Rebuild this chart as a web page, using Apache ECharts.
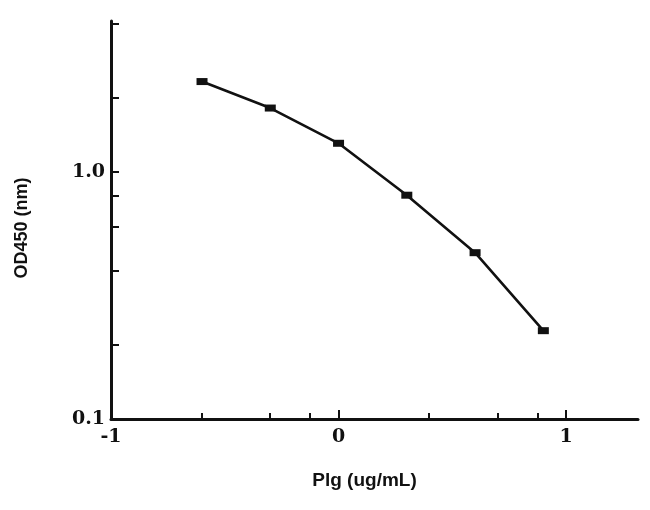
<!DOCTYPE html>
<html>
<head>
<meta charset="utf-8">
<script src="https://cdn.jsdelivr.net/npm/echarts@6/dist/echarts.min.js"></script>
<style>
html,body{margin:0;padding:0;background:#fff;}
#chart{width:650px;height:510px;}
</style>
</head>
<body>
<div id="chart"></div>
<script>
// log10 of Plg concentration (ug/mL)
const xLogConc = [-0.6, -0.3, 0, 0.3, 0.6, 0.9];
// OD450 readings
const od450 = [2.33, 1.82, 1.31, 0.807, 0.472, 0.228];
// axis ticks / labels
const xMajorTicks = [-1, 0, 1];
const xMinorTicks = [-0.602, -0.301, -0.125, 0.398, 0.699, 0.875];
const yTicks = [0.1, 0.2, 0.4, 0.6, 0.8, 1, 2, 4];
const yLabels = [0.1, 1];
const yLabelText = ['0.1', '1.0'];

const chart = echarts.init(document.getElementById('chart'), null, {renderer: 'canvas'});
const ink = '#111';
const grid = {left: 111, right: 12, top: 21, bottom: 91};

chart.setOption({
  backgroundColor: '#fff',
  animation: false,
  grid: grid,
  xAxis: [{
    type: 'value',
    min: -1, max: 1.316,
    name: 'Plg (ug/mL)',
    nameLocation: 'middle',
    nameGap: 52,
    nameTextStyle: {fontFamily: 'Liberation Sans', fontWeight: 'bold', fontSize: 19, color: ink, padding: [0, 20, 0, 0]},
    axisLine: {show: true, onZero: false, lineStyle: {color: ink, width: 3}},
    axisTick: {show: true, inside: true, length: 9, lineStyle: {color: ink, width: 2}, customValues: xMajorTicks},
    axisLabel: {customValues: xMajorTicks, margin: 9, fontFamily: 'DejaVu Serif', fontWeight: 'bold', fontSize: 19, color: ink},
    splitLine: {show: false}
  }, {
    type: 'value',
    min: -1, max: 1.316,
    position: 'bottom',
    axisLine: {show: false, onZero: false},
    axisTick: {show: true, inside: true, length: 6, lineStyle: {color: ink, width: 2}, customValues: xMinorTicks},
    axisLabel: {show: false},
    splitLine: {show: false}
  }],
  yAxis: {
    type: 'log',
    logBase: 10,
    min: 0.1, max: 4.1,
    name: 'OD450 (nm)',
    nameLocation: 'middle',
    nameGap: 80,
    nameRotate: 90,
    nameTextStyle: {fontFamily: 'Liberation Sans', fontWeight: 'bold', fontSize: 18, color: ink, padding: [0, 0, 0, -16]},
    axisLine: {show: true, onZero: false, lineStyle: {color: ink, width: 3}},
    axisTick: {show: true, inside: true, length: 8, lineStyle: {color: ink, width: 2}, customValues: yTicks},
    axisLabel: {
      customValues: yLabels, margin: 6,
      fontFamily: 'DejaVu Serif', fontWeight: 'bold', fontSize: 19, color: ink,
      formatter: function (v) {
        const i = yLabels.findIndex(function (t) { return Math.abs(t - v) < 1e-9; });
        return i >= 0 ? yLabelText[i] : '';
      }
    },
    splitLine: {show: false}
  },
  series: [{
    type: 'line',
    xAxisIndex: 0,
    data: xLogConc.map(function (x, i) { return [x, od450[i]]; }),
    symbol: 'rect',
    symbolSize: [11, 7],
    itemStyle: {color: ink},
    lineStyle: {color: ink, width: 2.6},
    smooth: false
  }]
});
</script>
</body>
</html>
